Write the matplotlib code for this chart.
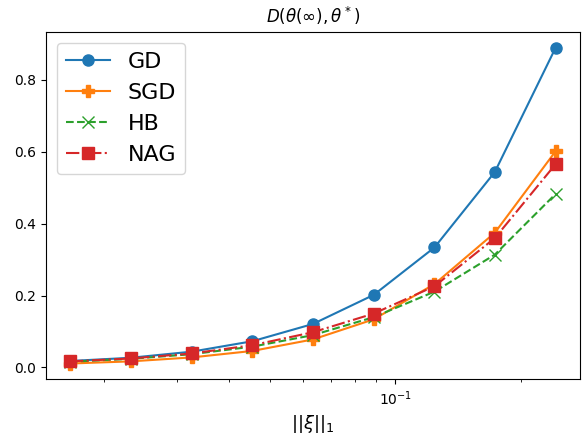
"""Distance to theta* against noise level for GD, SGD, HB and NAG."""
import matplotlib
matplotlib.use("Agg")
import matplotlib.pyplot as plt

# noise norm ||xi||_1 (log axis)
xi = [0.0166, 0.0232, 0.0325, 0.0454, 0.0634, 0.0887, 0.124, 0.173, 0.242]

# D(theta(inf), theta*) for each method
gd = [0.018, 0.027, 0.044, 0.073, 0.121, 0.202, 0.334, 0.544, 0.890]
sgd = [0.011, 0.017, 0.028, 0.046, 0.078, 0.134, 0.232, 0.375, 0.602]
hb = [0.016, 0.024, 0.037, 0.058, 0.090, 0.140, 0.211, 0.314, 0.483]
nag = [0.017, 0.025, 0.039, 0.062, 0.098, 0.150, 0.226, 0.360, 0.566]

fig = plt.figure(figsize=(5.82, 4.36), dpi=100)
ax = fig.add_axes([0.0785, 0.130, 0.918, 0.797])

ax.plot(xi, gd, '-o', color='tab:blue', markersize=8, label='GD')
ax.plot(xi, sgd, '-P', color='tab:orange', markersize=8, label='SGD')
ax.plot(xi, hb, '--x', color='tab:green', markersize=8, label='HB')
ax.plot(xi, nag, '-.s', color='tab:red', markersize=8, label='NAG')

ax.set_xscale('log')
ax.set_title(r'$D(\theta(\infty),\theta^*)$', fontsize=12)
ax.set_xlabel(r'$||\xi||_1$', fontsize=13)
ax.legend(loc='upper left', fontsize=16)

fig.savefig('out.png', dpi=100)
